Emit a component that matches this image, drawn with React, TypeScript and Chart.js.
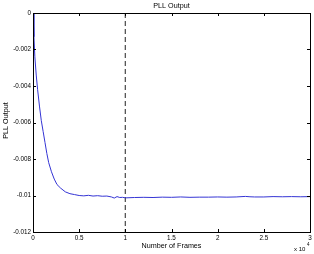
import React, { useEffect, useRef } from "react";
import { Chart, registerables } from "chart.js";

Chart.register(...registerables);

const frames = [0, 0.01, 0.02, 0.035, 0.05, 0.07, 0.09, 0.11, 0.13, 0.15, 0.17, 0.2, 0.23, 0.26, 0.3, 0.35, 0.4, 0.45, 0.5, 0.55, 0.6, 0.65, 0.7, 0.75, 0.8, 0.85, 0.88, 0.91, 0.94, 0.97, 1.0, 1.1, 1.2, 1.3, 1.4, 1.5, 1.6, 1.7, 1.8, 1.9, 2.0, 2.1, 2.2, 2.3, 2.35, 2.4, 2.5, 2.6, 2.7, 2.8, 2.9, 3.0];
const pllOutput = [0, -0.0013, -0.0024, -0.0034, -0.0042, -0.0051, -0.0059, -0.0065, -0.0071, -0.0077, -0.0082, -0.0087, -0.0091, -0.0094, -0.0096, -0.0098, -0.0099, -0.00995, -0.01, -0.01002, -0.00999, -0.01003, -0.01001, -0.01004, -0.01003, -0.01008, -0.01014, -0.01006, -0.01011, -0.0101, -0.01013, -0.01011, -0.0101, -0.01011, -0.01009, -0.0101, -0.01008, -0.0101, -0.01009, -0.01009, -0.01008, -0.01009, -0.01008, -0.01005, -0.01007, -0.01008, -0.01008, -0.01006, -0.01007, -0.01006, -0.01007, -0.01006];
const markerX = 1;
const xTickValues = [0, 0.5, 1, 1.5, 2, 2.5, 3];
const xTickLabels = ["0", "0.5", "1", "1.5", "2", "2.5", "3"];
const yTickValues = [0, -0.002, -0.004, -0.006, -0.008, -0.01, -0.012];
const yTickLabels = ["0", "-0.002", "-0.004", "-0.006", "-0.008", "-0.01", "-0.012"];
const titleText = "PLL Output";
const xTitle = "Number of Frames";
const yTitle = "PLL Output";

const FONT = "'Liberation Sans', Arial, Helvetica, sans-serif";

const decorPlugin = {
  id: "decor",
  afterDraw(chart: any) {
    const { ctx, chartArea } = chart;
    const xs = chart.scales.x;
    const ys = chart.scales.y;
    const { left, right, top, bottom } = chartArea;
    ctx.save();
    ctx.strokeStyle = "#000";
    ctx.lineWidth = 1;
    ctx.strokeRect(Math.round(left) + 0.5, Math.round(top) + 0.5, Math.round(right - left), Math.round(bottom - top));
    const tl = 3;
    ctx.beginPath();
    xTickValues.forEach((v) => {
      const px = Math.round(xs.getPixelForValue(v)) + 0.5;
      ctx.moveTo(px, bottom);
      ctx.lineTo(px, bottom - tl);
      ctx.moveTo(px, top);
      ctx.lineTo(px, top + tl);
    });
    yTickValues.forEach((v) => {
      const py = Math.round(ys.getPixelForValue(v)) + 0.5;
      ctx.moveTo(left, py);
      ctx.lineTo(left + tl, py);
      ctx.moveTo(right, py);
      ctx.lineTo(right - tl, py);
    });
    ctx.stroke();

    ctx.fillStyle = "#000";
    ctx.textAlign = "center";
    ctx.textBaseline = "middle";
    ctx.font = `7.2px ${FONT}`;
    const cx = (left + right) / 2;
    ctx.fillText(titleText, cx, 6);
    ctx.fillText(xTitle, cx, 246);
    ctx.save();
    ctx.translate(6, (top + bottom) / 2 - 2);
    ctx.rotate(-Math.PI / 2);
    ctx.fillText(yTitle, 0, 0);
    ctx.restore();

    ctx.textAlign = "left";
    ctx.font = `6px ${FONT}`;
    ctx.fillText("x 10", 294, 249);
    ctx.font = `4.5px ${FONT}`;
    ctx.fillText("4", 307, 245);
    ctx.restore();
  },
};

export default function App() {
  const ref = useRef<HTMLCanvasElement>(null);
  useEffect(() => {
    document.body.style.margin = "0";
    const chart = new Chart(ref.current!, {
      type: "line",
      data: {
        datasets: [
          {
            data: frames.map((f, i) => ({ x: f, y: pllOutput[i] })),
            borderColor: "#3434d4",
            borderWidth: 1,
            pointRadius: 0,
            tension: 0,
          },
          {
            data: [
              { x: markerX, y: yTickValues[0] },
              { x: markerX, y: yTickValues[yTickValues.length - 1] },
            ],
            borderColor: "#555",
            borderWidth: 1.3,
            borderDash: [5, 3],
            pointRadius: 0,
          },
        ],
      },
      options: {
        animation: false,
        responsive: false,
        maintainAspectRatio: false,
        layout: { padding: { top: 13, right: 4, left: 0, bottom: 0 } },
        plugins: { legend: { display: false }, tooltip: { enabled: false }, title: { display: false } },
        scales: {
          x: {
            type: "linear",
            min: 0,
            max: 3,
            afterFit: (s: any) => {
              s.height = 22;
            },
            afterBuildTicks: (s: any) => {
              s.ticks = xTickValues.map((v) => ({ value: v }));
            },
            grid: { display: false, drawTicks: false },
            border: { display: false },
            ticks: {
              padding: 2,
              color: "#000",
              font: { size: 6.3, family: FONT },
              maxRotation: 0,
              autoSkip: false,
              callback: (v: any) => {
                const i = xTickValues.findIndex((t) => Math.abs(t - v) < 1e-9);
                return i >= 0 ? xTickLabels[i] : "";
              },
            },
          },
          y: {
            type: "linear",
            min: -0.012,
            max: 0,
            afterFit: (s: any) => {
              s.width = 33;
            },
            afterBuildTicks: (s: any) => {
              s.ticks = yTickValues.map((v) => ({ value: v }));
            },
            grid: { display: false, drawTicks: false },
            border: { display: false },
            ticks: {
              padding: 2,
              color: "#000",
              font: { size: 6.3, family: FONT },
              autoSkip: false,
              callback: (v: any) => {
                const i = yTickValues.findIndex((t) => Math.abs(t - v) < 1e-9);
                return i >= 0 ? yTickLabels[i] : "";
              },
            },
          },
        },
      },
      plugins: [decorPlugin],
    });
    return () => chart.destroy();
  }, []);
  return (
    <div style={{ position: "absolute", left: 0, top: 0, width: 314, height: 254, background: "#fff" }}>
      <canvas ref={ref} width={314} height={254} />
    </div>
  );
}
